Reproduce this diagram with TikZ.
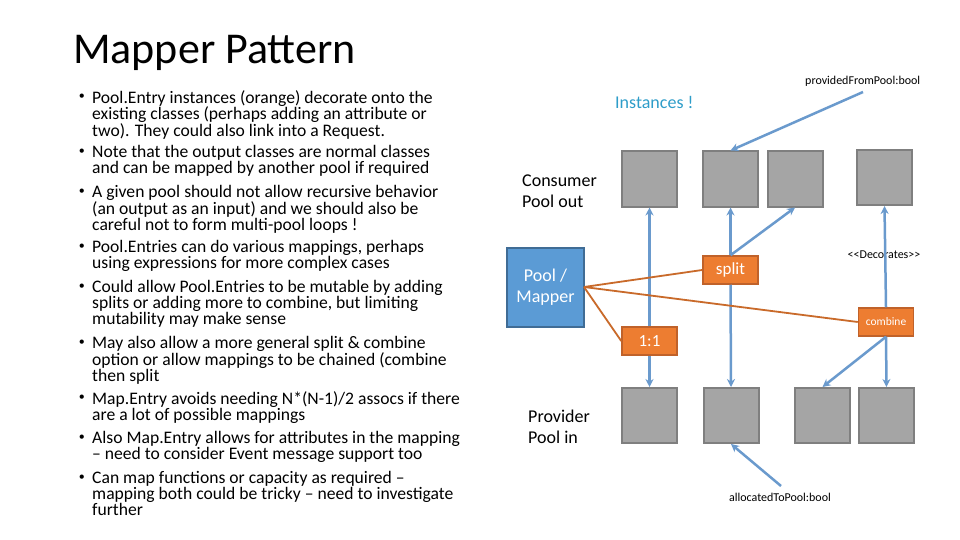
\documentclass[tikz,border=0pt]{standalone}
\usepackage{fontspec}
\setmainfont{Carlito}
\usetikzlibrary{arrows.meta}
\definecolor{mblue}{HTML}{5B9BD5}
\definecolor{lblue}{HTML}{6A9ACD}
\definecolor{morange}{HTML}{ED7D31}
\definecolor{oborder}{HTML}{C0622A}
\definecolor{gfill}{HTML}{A5A5A5}
\definecolor{gborder}{HTML}{7F7F7F}
\definecolor{cyanish}{HTML}{2E9DC9}
\begin{document}
\begin{tikzpicture}[x=1pt,y=-1pt,
  box/.style={draw=gborder,fill=gfill,line width=2pt,minimum width=55pt,minimum height=55pt,inner sep=0pt},
  op/.style={draw=oborder,fill=morange,line width=1.5pt,minimum width=55pt,minimum height=28pt,inner sep=0pt,text=white,font=\fontsize{17}{18}\selectfont},
  conn/.style={draw=lblue,line width=2.5pt,-{Stealth[length=8pt,width=8pt]}},
  oline/.style={draw=morange!85!black,line width=1.8pt},
  bul/.style={anchor=north west,inner sep=0pt,align=left,font=\fontsize{17.6}{15}\selectfont},
  lab/.style={inner sep=0pt,font=\fontsize{18}{21}\selectfont,align=left,anchor=west},
  small/.style={inner sep=0pt,font=\fontsize{12}{14}\selectfont}]
\useasboundingbox (0,0) rectangle (960,540);
\fill[white] (0,0) rectangle (960,540);
\node[anchor=west,inner sep=0pt,font=\fontsize{44}{46}\selectfont] (title) at (73,53) {Mapper Pattern};
% bullets
\foreach \y/\t [count=\i] in {
 90/{Pool.Entry instances (orange) decorate onto the\\existing classes (perhaps adding an attribute or\\two). They could also link into a Request.},
 145/{Note that the output classes are normal classes\\and can be mapped by another pool if required},
 185/{A given pool should not allow recursive behavior\\(an output as an input) and we should also be\\careful not to form multi-pool loops !},
 240/{Pool.Entries can do various mappings, perhaps\\using expressions for more complex cases},
 280/{Could allow Pool.Entries to be mutable by adding\\splits or adding more to combine, but limiting\\mutability may make sense},
 336/{May also allow a more general split \& combine\\option or allow mappings to be chained (combine\\then split},
 391/{Map.Entry avoids needing N*(N-1)/2 assocs if there\\are a lot of possible mappings},
 431/{Also Map.Entry allows for attributes in the mapping\\– need to consider Event message support too},
 471/{Can map functions or capacity as required –\\mapping both could be tricky – need to investigate\\further}}
 {\node[bul] (b\i) at (92,\y) {\t};
  \node[anchor=north east,inner sep=0pt,font=\fontsize{12}{15}\selectfont] (d\i) at (85,\y+4) {•};}
% labels
\node[lab,text=cyanish] (inst) at (615,102) {Instances !};
\node[lab] (cons) at (522,191) {Consumer\\Pool out};
\node[lab] (prov) at (528,427) {Provider\\Pool in};
\node[small,anchor=west] (pfp) at (805,81) {providedFromPool:bool};
\node[small] (dec) at (884,255) {{<}{<}Decorates{>}{>}};
\node[small] (atp) at (780,497) {allocatedToPool:bool};
% boxes
\node[box] (t1) at (649.5,179) {};
\node[box] (t2) at (730.5,179) {};
\node[box] (t3) at (795,179) {};
\node[box] (t4) at (884.5,177.5) {};
\node[box] (p1) at (649.5,415.5) {};
\node[box] (p2) at (731,415.5) {};
\node[box] (p3) at (822.5,415.5) {};
\node[box] (p4) at (886.5,415.5) {};
\node[draw=mblue!70!black,fill=mblue,line width=1.5pt,minimum width=77pt,minimum height=79pt,inner sep=0pt,text=white,align=center,font=\fontsize{18}{21}\selectfont] (pm) at (545.5,287.5) {Pool /\\Mapper};
\node[op] (split) at (730.5,270) {split};
\node[op,font=\fontsize{11.5}{12}\selectfont] (comb) at (886,322) {combine};
\node[op] (one) at (649.5,341) {1:1};
% connectors
\draw[conn] (one.north) -- (t1.south);
\draw[conn] (one.south) -- (p1.north);
\draw[conn] (split.north) -- (t2.south);
\draw[conn] (split.north) -- (t3.south);
\draw[conn] (split.south) -- (p2.north);
\draw[conn] (comb.north) -- (t4.south);
\draw[conn] (comb.south) -- (p4.north);
\draw[conn] (comb.south) -- (p3.north);
\coordinate (pfe) at (863,92);
\coordinate (ate) at (781,486);
\draw[conn] (pfe) -- (t2.north);
\draw[conn] (ate) -- (p2.south);
\coordinate (pmr) at (584,287);
\draw[oline] (pmr) -- (split.west);
\draw[oline] (pmr) -- (comb.west);
\draw[oline] (pmr) -- (one.west);
\end{tikzpicture}
\end{document}
